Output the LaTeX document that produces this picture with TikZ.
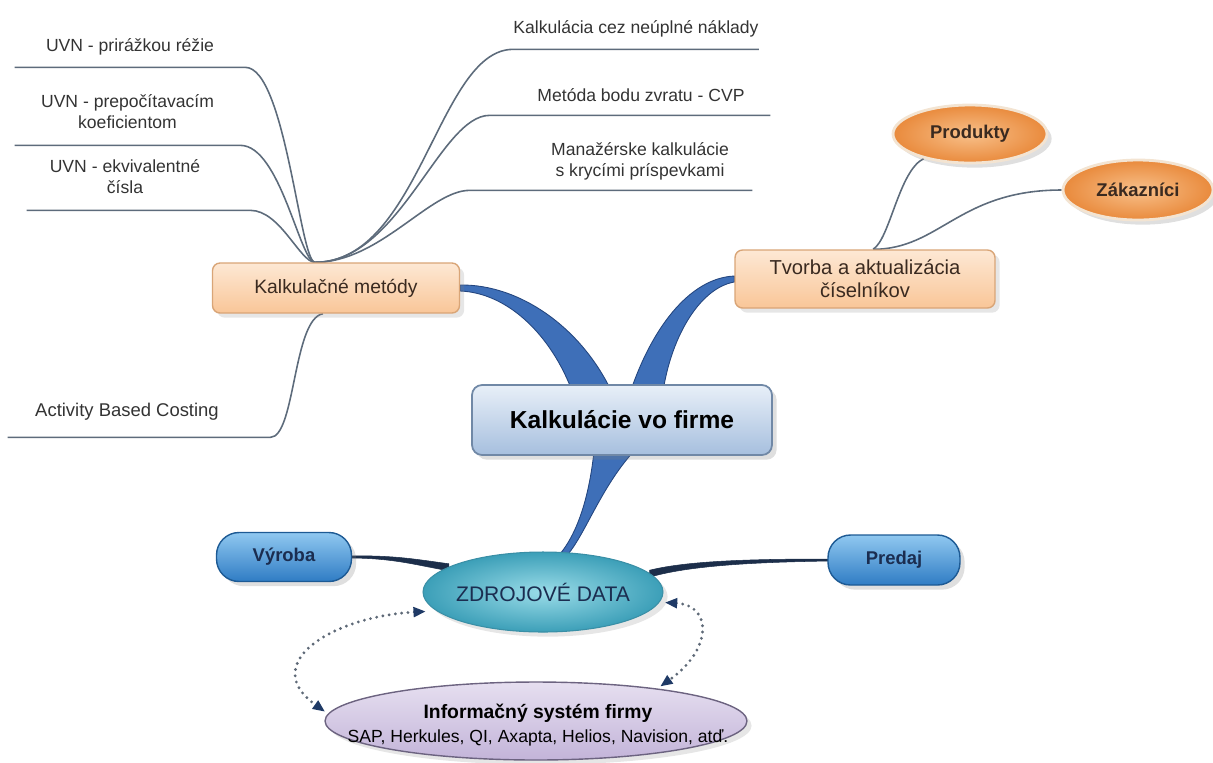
\documentclass[tikz,border=0pt]{standalone}
\usepackage{fontspec}
\setmainfont{Liberation Sans}
\usetikzlibrary{calc,arrows.meta,shapes.geometric,shadows,backgrounds}
\definecolor{peachtop}{HTML}{FDE8D4}
\definecolor{peachbot}{HTML}{F9C698}
\definecolor{peachline}{HTML}{D9A577}
\definecolor{browntext}{HTML}{3A2A20}
\definecolor{coretop}{HTML}{E8EFF8}
\definecolor{corebot}{HTML}{A6BFDE}
\definecolor{coreline}{HTML}{7088A6}
\definecolor{pilltop}{HTML}{90C8F0}
\definecolor{pillbot}{HTML}{2F7CC4}
\definecolor{pillline}{HTML}{1D5A94}
\definecolor{navytext}{HTML}{1B2D50}
\definecolor{orbin}{HTML}{F8C08A}
\definecolor{orbout}{HTML}{E98A3C}
\definecolor{orbline}{HTML}{F3E4D2}
\definecolor{sourcein}{HTML}{9ADCE8}
\definecolor{sourceout}{HTML}{3C9FB8}
\definecolor{sourceline}{HTML}{3A8FA6}
\definecolor{systemtop}{HTML}{E6DFF0}
\definecolor{systembot}{HTML}{C3B4D9}
\definecolor{systemline}{HTML}{6C6380}
\definecolor{branchblue}{HTML}{3E6FB8}
\definecolor{branchdark}{HTML}{24467F}
\definecolor{stemnavy}{HTML}{1C2E4A}
\definecolor{twiggray}{HTML}{5D6B7B}
\definecolor{leaftext}{HTML}{333333}
\definecolor{dotgray}{HTML}{5E6977}
\definecolor{arrownavy}{HTML}{1F3A66}
\tikzstyle{topic} = [rectangle,rounded corners=0.15cm,draw=peachline,line width=0.8pt,top color=peachtop,bottom color=peachbot,text=browntext,align=center,font=\fontsize{11}{13}\selectfont,drop shadow={opacity=0.2}]
\tikzstyle{core} = [rectangle,rounded corners=0.2cm,draw=coreline,line width=1pt,top color=coretop,bottom color=corebot,text=black,font=\fontsize{14}{16}\selectfont\bfseries,drop shadow={opacity=0.25}]
\tikzstyle{pill} = [rectangle,rounded corners=0.45cm,draw=pillline,line width=0.8pt,top color=pilltop,bottom color=pillbot,text=navytext,font=\fontsize{10.5}{12}\selectfont\bfseries,drop shadow={opacity=0.25}]
\tikzstyle{orb} = [ellipse,draw=orbline,line width=1.6pt,inner color=orbin,outer color=orbout,text=browntext,font=\fontsize{10.5}{12}\selectfont\bfseries,drop shadow={opacity=0.25}]
\tikzstyle{source} = [ellipse,draw=sourceline,line width=0.6pt,inner color=sourcein,outer color=sourceout,inner sep=0pt,drop shadow={opacity=0.2}]
\tikzstyle{system} = [ellipse,draw=systemline,line width=0.8pt,top color=systemtop,bottom color=systembot,inner sep=0pt,drop shadow={opacity=0.2}]
\tikzstyle{leaf} = [inner sep=0pt,align=center,text=leaftext,font=\fontsize{10}{12}\selectfont]
\tikzstyle{twig} = [draw=twiggray,line width=0.9pt]
\tikzstyle{branch} = [fill=branchblue,draw=branchdark,line width=0.5pt]
\tikzstyle{stem} = [fill=stemnavy,draw=stemnavy,line width=0.3pt]
\tikzstyle{link} = [draw=dotgray,line width=1.8pt,line cap=round,dash pattern=on 0pt off 3.6pt,{Triangle[length=7pt,width=5.5pt,color=arrownavy]}-{Triangle[length=7pt,width=5.5pt,color=arrownavy]}]

\begin{document}
\begin{tikzpicture}[x=0.02cm,y=-0.02cm]
  \useasboundingbox (0,0) rectangle (1213,762);

  \node[topic,minimum width=4.94cm,minimum height=1cm] (kalk) at (336,288) {Kalkulačné metódy};
  \node[topic,minimum width=5.2cm,minimum height=1.16cm,font=\fontsize{11.5}{13}\selectfont] (tvorba) at (865,279) {Tvorba a aktualizácia\\číselníkov};
  \node[core,minimum width=6cm,minimum height=1.4cm] (hub) at (622,420) {Kalkulácie vo firme};
  \node[pill,minimum width=2.7cm,minimum height=0.98cm] (vyroba) at (284,557) {Výroba};
  \node[pill,minimum width=2.64cm,minimum height=1cm] (predaj) at (894,560) {Predaj};
  \node[source,minimum width=4.8cm,minimum height=1.6cm] (zdroj) at (543,592) {};
  \node[text=navytext,font=\fontsize{12}{14}\selectfont] (zdrojtext) at (zdroj) {ZDROJOVÉ DATA};
  \node[orb,minimum width=3.08cm,minimum height=1.16cm] (produkty) at (970,134) {Produkty};
  \node[orb,minimum width=3cm,minimum height=1.2cm] (zakaznici) at (1138,190) {Zákazníci};
  \node[system,minimum width=8.44cm,minimum height=1.56cm] (info) at (536,721) {};
  \node[align=center,font=\fontsize{10}{13.5}\selectfont] (infotext) at (538,725) {{\fontsize{11}{13.5}\selectfont\bfseries Informačný systém firmy}\\SAP, Herkules, QI, Axapta, Helios, Navision, atď.};

  \node[leaf,minimum width=4.6cm,minimum height=0.8cm] (uvnA) at (130,47) {UVN - prirážkou réžie};
  \node[leaf,minimum width=4.5cm,minimum height=1.32cm] (uvnB) at (127.5,112) {UVN - prepočítavacím\\koeficientom};
  \node[leaf,minimum width=3.92cm,minimum height=1.32cm] (uvnC) at (125,177) {UVN - ekvivalentné\\čísla};
  \node[leaf,minimum width=4.64cm,minimum height=0.8cm] (kalkA) at (636,29) {Kalkulácia cez neúplné náklady};
  \node[leaf,minimum width=5.16cm,minimum height=0.8cm] (kalkB) at (641,95) {Metóda bodu zvratu - CVP};
  \node[leaf,minimum width=4.48cm,minimum height=1.16cm] (kalkC) at (640,161) {Manažérske kalkulácie\\s krycími príspevkami};
  \node[leaf,minimum width=4.76cm,minimum height=1cm,font=\fontsize{10.5}{12}\selectfont] (abc) at (127,412) {Activity Based Costing};

  \coordinate (kalkin) at ($(kalk.north)+(-21,0)$);
  \coordinate (kalkout) at ($(kalk.south)+(-13,0)$);
  \coordinate (tvorbain) at ($(tvorba.north)+(8,0)$);

  \begin{pgfonlayer}{background}
    \fill[branch] ($(hub.north)+(-7,15)$) .. controls +(-30,-70) and +(60,-1) .. ($(kalk.east)+(0,-3)$) -- ($(kalk.east)+(0,3)$) .. controls +(50,2) and +(-20,-60) .. ($(hub.north)+(-47,15)$) -- cycle;
    \fill[branch] ($(hub.north)+(6,15)$) .. controls +(22,-70) and +(-45,2) .. ($(tvorba.west)+(0,-3)$) -- ($(tvorba.west)+(0,3)$) .. controls +(-35,6) and +(7,-60) .. ($(hub.north)+(40,15)$) -- cycle;
    \fill[branch] ($(hub.south)+(-27,-15)$) .. controls +(-5,60) and +(20,-20) .. ($(zdroj.north)+(12,8)$) -- ($(zdroj.north)+(20,8)$) .. controls +(22,-20) and +(-43,40) .. ($(hub.south)+(22,-15)$) -- cycle;
    \fill[stem] ($(vyroba.east)+(-3,-1)$) .. controls +(45,-1) and +(-30,-4) .. ($(zdroj.165)+(0,-3)$) -- ($(zdroj.165)+(0,4)$) .. controls +(-30,-5) and +(45,0) .. ($(vyroba.east)+(-3,1)$) -- cycle;
    \fill[stem] ($(predaj.west)+(3,-1)$) .. controls +(-70,0) and +(40,-10) .. ($(zdroj.10)+(0,-3)$) -- ($(zdroj.10)+(0,4)$) .. controls +(40,-12) and +(-70,1) .. ($(predaj.west)+(3,1)$) -- cycle;

    \draw[twig] (uvnA.south west) -- (uvnA.south east) .. controls +(40,0) and +(-15,0) .. (kalkin);
    \draw[twig] (uvnB.south west) -- (uvnB.south east) .. controls +(40,0) and +(-15,0) .. (kalkin);
    \draw[twig] (uvnC.south west) -- ($(uvnC.south east)+(27,0)$) .. controls +(30,0) and +(-15,0) .. (kalkin);
    \draw[twig] (kalkA.south east) -- (kalkA.south west) .. controls +(-75,0) and +(105,0) .. (kalkin);
    \draw[twig] (kalkB.south east) -- ($(kalkB.south west)+(-22,0)$) .. controls +(-50,0) and +(85,0) .. (kalkin);
    \draw[twig] (kalkC.south east) -- ($(kalkC.south west)+(-58,0)$) .. controls +(-40,0) and +(65,0) .. (kalkin);
    \draw[twig] (abc.south west) -- ($(abc.south east)+(24,0)$) .. controls +(25,0) and +(-30,5) .. (kalkout);
    \draw[twig] (tvorbain) .. controls +(17,-10) and +(-25,12) .. (produkty.208);
    \draw[twig] (tvorbain) .. controls +(67,0) and +(-103,0) .. (zakaznici.west);
  \end{pgfonlayer}

  \draw[link,shorten <=6pt,shorten >=2pt] (zdroj.190) .. controls +(-105,6) and +(-70,-50) .. (info.178);
  \draw[link,shorten <=3pt,shorten >=2pt] (zdroj.355) .. controls +(53,3) and +(55,-39) .. (info.15);
\end{tikzpicture}
\end{document}
